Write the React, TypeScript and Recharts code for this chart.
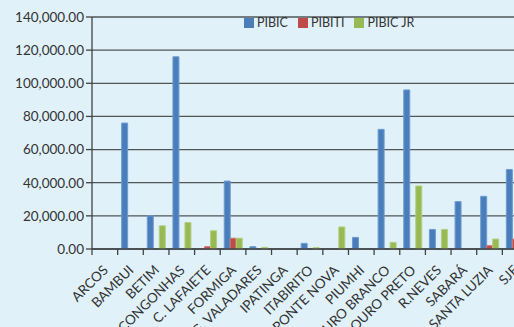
import React from 'react';
import { BarChart, Bar, XAxis, YAxis, CartesianGrid, Legend } from 'recharts';

const campuses = [
  'ARCOS', 'BAMBUI', 'BETIM', 'CONGONHAS', 'C. LAFAIETE', 'FORMIGA', 'G. VALADARES',
  'IPATINGA', 'ITABIRITO', 'PONTE NOVA', 'PIUMHI', 'OURO BRANCO', 'OURO PRETO',
  'R.NEVES', 'SABARÁ', 'SANTA LUZIA', 'SJE',
];
const pibic = [0, 76000, 20000, 116000, 0, 41000, 1400, 0, 3400, 0, 7000, 72200, 96000, 11800, 28600, 31800, 48000];
const pibiti = [0, 0, 0, 0, 1400, 6500, 0, 0, 0, 0, 0, 0, 0, 0, 0, 2000, 6000];
const pibicJr = [0, 0, 14000, 16000, 11000, 6500, 1000, 0, 800, 13300, 0, 4000, 38000, 11800, 0, 6000, 0];
const yTicks = [0, 20000, 40000, 60000, 80000, 100000, 120000, 140000];

const data = campuses.map((name, i) => ({
  name,
  PIBIC: pibic[i],
  PIBITI: pibiti[i],
  'PIBIC JR': pibicJr[i],
}));

const FONT = 'Lato, "Open Sans", sans-serif';
const AXIS = '#3f4444';

const fmt = (v: number) =>
  v.toLocaleString('en-US', { minimumFractionDigits: 2, maximumFractionDigits: 2 });

// category label rotated -45deg plus a tick mark on the left boundary of each category
function CampusTick(props: any) {
  const { x, y, payload } = props;
  const half = payload && payload.offset ? payload.offset : 12.8;
  const tx = x + 4;
  const ty = y + 14;
  return (
    <g>
      <line x1={x - half} y1={249} x2={x - half} y2={255} stroke={AXIS} strokeWidth={1.3} />
      <text
        x={tx}
        y={ty}
        textAnchor="end"
        transform={`rotate(-45, ${tx}, ${ty})`}
        fontSize={13.5}
        fontFamily={FONT}
        fill="#333"
      >
        {payload.value}
      </text>
    </g>
  );
}

function SeriesLegend(props: any) {
  const { payload } = props;
  return (
    <div style={{ display: 'flex', alignItems: 'center', fontFamily: FONT, fontSize: 12.5, color: '#333' }}>
      {(payload || []).map((p: any) => (
        <div key={p.value} style={{ display: 'flex', alignItems: 'center', marginRight: 10 }}>
          <span style={{ width: 10, height: 10, background: p.color, marginRight: 3, display: 'inline-block' }} />
          <span>{p.value}</span>
        </div>
      ))}
    </div>
  );
}

export default function App() {
  return (
    <div
      style={{
        position: 'absolute',
        left: 0,
        top: 0,
        width: 514,
        height: 327,
        overflow: 'hidden',
        background: '#e0f1fa',
      }}
    >
      <BarChart
        width={545}
        height={327}
        data={data}
        margin={{ top: 17, right: 17, left: 0, bottom: 0 }}
        barGap={0}
        barSize={6}
      >
        <CartesianGrid vertical={false} stroke="#4f5656" strokeWidth={1.3} />
        <XAxis
          dataKey="name"
          interval={0}
          height={78}
          axisLine={{ stroke: AXIS, strokeWidth: 1.3 }}
          tickLine={false}
          tick={<CampusTick />}
        />
        <YAxis
          width={92}
          domain={[0, 140000]}
          ticks={yTicks}
          tickFormatter={fmt}
          axisLine={{ stroke: AXIS, strokeWidth: 1.3 }}
          tickLine={{ stroke: AXIS, strokeWidth: 1.3 }}
          tickSize={6}
          tick={{ fontSize: 13.5, fontFamily: FONT, fill: '#333' }}
        />
        <Legend
          verticalAlign="middle"
          align="center"
          itemSorter={null}
          content={<SeriesLegend />}
          wrapperStyle={{ top: 15, left: 244, width: 220, height: 18 }}
        />
        <Bar dataKey="PIBIC" fill="#4a7ebb" stroke="#6f9bd2" strokeWidth={1} isAnimationActive={false} />
        <Bar dataKey="PIBITI" fill="#be4b48" stroke="#d27370" strokeWidth={1} isAnimationActive={false} />
        <Bar dataKey="PIBIC JR" fill="#98b954" stroke="#b3cf7c" strokeWidth={1} isAnimationActive={false} />
      </BarChart>
    </div>
  );
}
